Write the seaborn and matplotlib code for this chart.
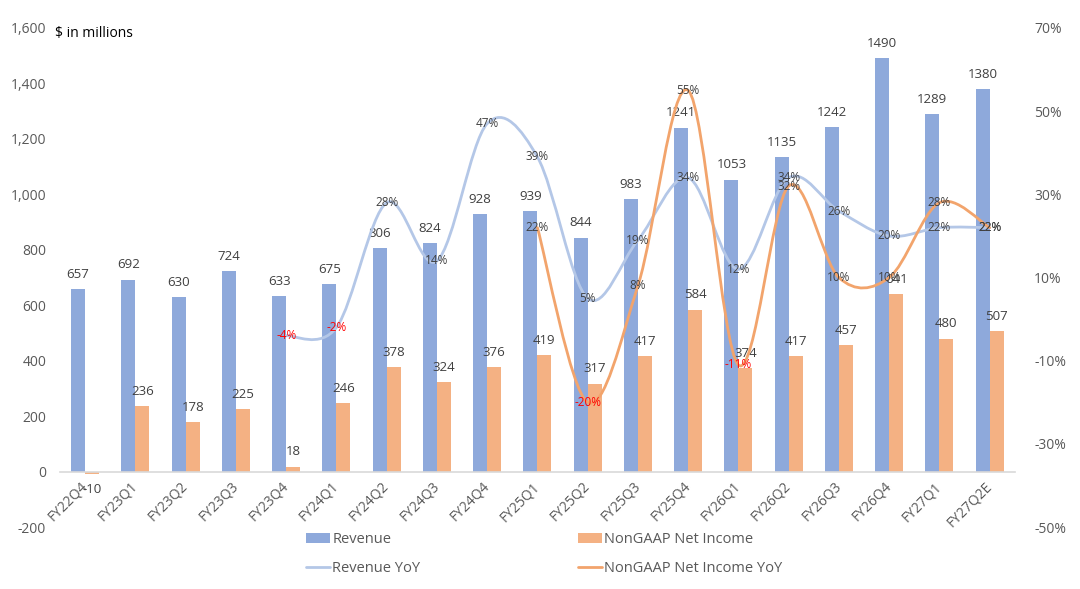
import numpy as np
import pandas as pd
import seaborn as sns
import matplotlib.pyplot as plt
from matplotlib.path import Path
from matplotlib.patches import PathPatch, Patch
from matplotlib.lines import Line2D
from matplotlib.ticker import FuncFormatter

quarters = ['FY22Q4', 'FY23Q1', 'FY23Q2', 'FY23Q3', 'FY23Q4', 'FY24Q1', 'FY24Q2',
            'FY24Q3', 'FY24Q4', 'FY25Q1', 'FY25Q2', 'FY25Q3', 'FY25Q4', 'FY26Q1',
            'FY26Q2', 'FY26Q3', 'FY26Q4', 'FY27Q1', 'FY27Q2E']
revenue = [657, 692, 630, 724, 633, 675, 806, 824, 928, 939, 844, 983, 1241, 1053,
           1135, 1242, 1490, 1289, 1380]
net_income = [-10, 236, 178, 225, 18, 246, 378, 324, 376, 419, 317, 417, 584, 374,
              417, 457, 641, 480, 507]
# YoY series start later (FY23Q4 and FY25Q1)
revenue_yoy = [np.nan] * 4 + [-4, -2, 28, 14, 47, 39, 5, 19, 34, 12, 34, 26, 20, 22, 22]
income_yoy = [np.nan] * 9 + [22, -20, 8, 55, -11, 32, 10, 10, 28, 22]

BLUE = '#8EA9DB'
ORANGE = '#F4B183'
BLUE_LINE = '#B4C7E7'
ORANGE_LINE = '#F2A46C'
GREY = '#595959'

sns.set_style('white')
plt.rcParams['font.family'] = ['Open Sans', 'DejaVu Sans']


def smooth_path(xs, ys):
    # excel-like smoothed line: catmull-rom segments as cubic beziers
    verts = [(xs[0], ys[0])]
    codes = [Path.MOVETO]
    n = len(xs)
    for i in range(n - 1):
        a = i - 1 if i > 0 else i
        d = i + 2 if i + 2 < n else i + 1
        c1 = (xs[i] + (xs[i + 1] - xs[a]) / 6, ys[i] + (ys[i + 1] - ys[a]) / 6)
        c2 = (xs[i + 1] - (xs[d] - xs[i]) / 6, ys[i + 1] - (ys[d] - ys[i]) / 6)
        verts += [c1, c2, (xs[i + 1], ys[i + 1])]
        codes += [Path.CURVE4] * 3
    return Path(verts, codes)


df = pd.DataFrame({
    'quarter': quarters * 2,
    'value': revenue + net_income,
    'series': ['Revenue'] * len(quarters) + ['NonGAAP Net Income'] * len(quarters),
})

fig = plt.figure(figsize=(10.8, 5.89), dpi=100)
ax = fig.add_axes([0.0556, 0.105, 0.884, 0.8475])
sns.barplot(data=df, x='quarter', y='value', hue='series', palette=[BLUE, ORANGE],
            width=0.56, saturation=1, linewidth=0, legend=False, ax=ax)
ax.set_xlim(-0.5, len(quarters) - 0.5)
ax.set_ylim(-200, 1600)
ax.set_yticks(range(-200, 1601, 200))
ax.yaxis.set_major_formatter(FuncFormatter(lambda v, p: f'{v:,.0f}'))
ax.set_xlabel('')
ax.set_ylabel('')
for c in ax.containers:
    ax.bar_label(c, padding=6, fontsize=9.5, color='#404040')

for s in ['top', 'right', 'left']:
    ax.spines[s].set_visible(False)
ax.spines['bottom'].set_position(('data', 0))
ax.spines['bottom'].set_color('#D9D9D9')
ax.spines['bottom'].set_linewidth(1.2)
ax.tick_params(axis='y', length=0, pad=10, labelsize=10, labelcolor=GREY)
ax.tick_params(axis='x', length=0, pad=9, labelsize=10, labelcolor=GREY)
for lab in ax.get_xticklabels():
    lab.set_rotation(45)
    lab.set_ha('right')
    lab.set_va('center')
    lab.set_rotation_mode('anchor')

ax2 = ax.twinx()
ax2.set_ylim(-50, 70)
ax2.set_yticks(range(-50, 71, 20))
ax2.yaxis.set_major_formatter(FuncFormatter(lambda v, p: f'{v:.0f}%'))
ax2.tick_params(axis='y', length=0, pad=14, labelsize=10, labelcolor=GREY)
for s in ax2.spines.values():
    s.set_visible(False)

for vals, col in [(revenue_yoy, BLUE_LINE), (income_yoy, ORANGE_LINE)]:
    xs = [i for i, v in enumerate(vals) if not np.isnan(v)]
    ys = [v for v in vals if not np.isnan(v)]
    ax2.add_patch(PathPatch(smooth_path(xs, ys), fill=False, edgecolor=col,
                            linewidth=2, capstyle='round', zorder=3))
    for x, y in zip(xs, ys):
        ax2.text(x, y, f'{y:.0f}%', ha='center', va='center', fontsize=8.5,
                 color='#FF0000' if y < 0 else '#404040', zorder=4)

fig.text(55 / 1080, 1 - 34 / 589, '$ in millions', fontsize=10, color='black',
         va='center', ha='left')

handles = [Patch(facecolor=BLUE, edgecolor='none'),
           Line2D([], [], color=BLUE_LINE, linewidth=2),
           Patch(facecolor=ORANGE, edgecolor='none'),
           Line2D([], [], color=ORANGE_LINE, linewidth=2)]
labels = ['Revenue', 'Revenue YoY', 'NonGAAP Net Income', 'NonGAAP Net Income YoY']
fig.legend(handles, labels, loc='upper left', bbox_to_anchor=(306 / 1080, 1 - 532 / 589),
           ncol=2, frameon=False, handlelength=1.65, handletextpad=0.15,
           columnspacing=10.8, labelspacing=0.95, fontsize=10.5, labelcolor=GREY,
           borderaxespad=0, borderpad=0)

fig.savefig('out.png', dpi=100, facecolor='white')
